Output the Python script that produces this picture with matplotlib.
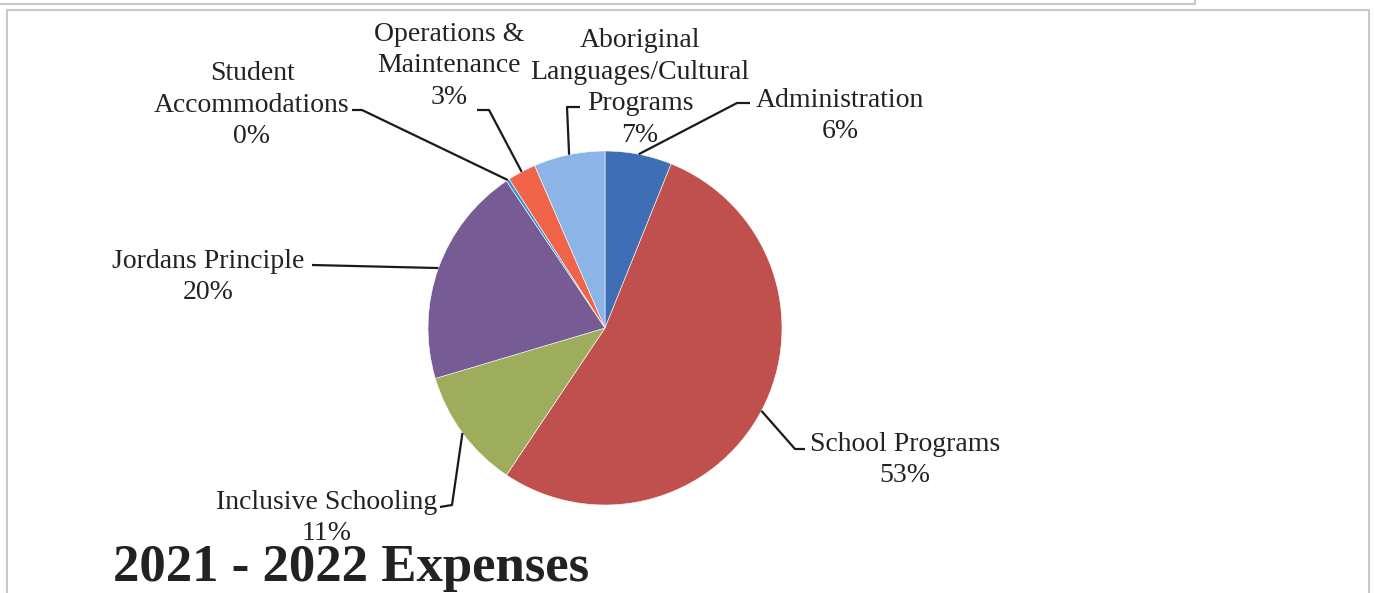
import numpy as np
import matplotlib.pyplot as plt
from matplotlib.patches import Rectangle

plt.rcParams['font.family'] = ['Liberation Serif', 'DejaVu Serif']

# slices, clockwise from 12 o'clock
categories = ["Administration", "School Programs", "Inclusive Schooling",
              "Jordans Principle", "Student\nAccommodations",
              "Operations &\nMaintenance",
              "Aboriginal\nLanguages/Cultural\nPrograms"]
values = [6.1, 53.3, 11.0, 20.2, 0.3, 2.6, 6.5]
pct_labels = ["6%", "53%", "11%", "20%", "0%", "3%", "7%"]
colors = ["#3F6EB5", "#C0504D", "#9DAD5C", "#775B95", "#3A8FD0",
          "#F0654A", "#8DB4E6"]

# label layout in pixel space (x, y from top), elbow point, text anchor
text_pos = [(840, 116), (905, 460), (327, 518), (208, 277),
            (252, 105), (449, 66), (640, 88)]
elbows = [[(750, 103), (737, 103)], [(805, 449), (795, 449)],
          [(440, 507), (452, 505)], [(312, 265), (312, 265)],
          [(352, 110), (362, 110)], [(477, 110), (489, 110)],
          [(580, 107), (567, 107)]]

W, H = 1374, 593
cx, cy, R = 605, 328, 177

fig = plt.figure(figsize=(W / 100, H / 100), dpi=100)
ax = fig.add_axes([0, 0, 1, 1])

wedges, _ = ax.pie(values, colors=colors, startangle=90, counterclock=False,
                   center=(cx, H - cy), radius=R,
                   wedgeprops=dict(edgecolor="white", linewidth=0.4))

ax.set_xlim(0, W)
ax.set_ylim(0, H)
ax.set_aspect('equal')
ax.axis('off')

# page boxes
ax.add_patch(Rectangle((7, -20), 1362, H - 10 + 20, fill=False,
                       edgecolor="#C8C8C8", lw=1.5, clip_on=False))
ax.plot([0, 1195, 1195], [H - 4, H - 4, H + 5], color="#C8C8C8", lw=1.5)

for i, w in enumerate(wedges):
    mid = np.deg2rad((w.theta1 + w.theta2) / 2)
    ex = cx + R * np.cos(mid)
    ey = (H - cy) + R * np.sin(mid)
    (x1, y1), (x2, y2) = elbows[i]
    ax.plot([x1, x2, ex], [H - y1, H - y2, ey], color="#1a1a1a", lw=1.6,
            solid_capstyle='butt')
    tx, ty = text_pos[i]
    ax.text(tx, H - ty, categories[i] + "\n" + pct_labels[i], ha='center',
            va='center', fontsize=20, color="#222222", linespacing=1.36)

ax.text(113, H - 568, "2021 - 2022 Expenses", ha='left', va='center',
        fontsize=38, fontweight='bold', color="#222222")

fig.savefig("out.png", dpi=100)
